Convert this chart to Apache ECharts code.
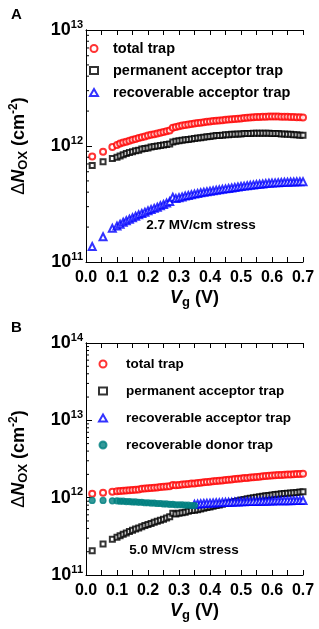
<!DOCTYPE html>
<html>
<head>
<meta charset="utf-8">
<script src="https://cdn.jsdelivr.net/npm/echarts@6/dist/echarts.min.js"></script>
<style>html,body{margin:0;padding:0;background:#fff}#c{width:319px;height:629px}</style>
</head>
<body>
<div id="c"></div>
<script>
// Gate voltage (V)
const vg = [0.02,0.055,0.085,
  0.10,0.11,0.12,0.13,0.14,0.15,0.16,0.17,0.18,0.19,0.20,0.21,0.22,0.23,0.24,0.25,0.26,0.27,
  0.28,0.29,0.30,0.31,0.32,0.33,0.34,0.35,0.36,0.37,0.38,0.39,0.40,0.41,0.42,0.43,0.44,0.45,
  0.46,0.47,0.48,0.49,0.50,0.51,0.52,0.53,0.54,0.55,0.56,0.57,0.58,0.59,0.60,0.61,0.62,0.63,
  0.64,0.65,0.66,0.67,0.68,0.69,0.70];
// Panel A, 2.7 MV/cm stress (units of 1e11 cm^-2)
const totalA = [8.1,8.9,9.8,
  10.2,10.5,10.7,10.9,11.1,11.3,11.5,11.7,11.9,12.1,12.3,12.5,12.6,12.8,13.0,13.2,13.4,13.6,
  14.4,14.6,14.8,15.0,15.2,15.3,15.5,15.6,15.8,15.9,16.0,16.2,16.3,16.4,16.5,16.6,16.7,16.8,
  16.9,17.0,17.1,17.2,17.3,17.4,17.5,17.6,17.7,17.8,17.8,17.9,17.9,18.0,18.0,18.0,18.0,17.9,
  17.9,17.9,17.8,17.8,17.7,17.7,17.6];
const permA = [6.8,7.3,7.8,
  8.0,8.2,8.4,8.6,8.8,8.9,9.1,9.2,9.4,9.5,9.6,9.8,9.9,10.0,10.1,10.2,10.3,10.4,
  10.8,11.0,11.1,11.2,11.3,11.4,11.5,11.6,11.7,11.8,11.9,12.0,12.1,12.2,12.3,12.3,12.4,12.5,
  12.5,12.6,12.6,12.7,12.7,12.8,12.8,12.8,12.9,12.9,12.9,12.9,12.9,12.9,12.8,12.8,12.8,12.7,
  12.7,12.6,12.6,12.5,12.5,12.4,12.4];
const recAccA = [1.36,1.65,1.95,
  2.04,2.12,2.20,2.27,2.34,2.41,2.48,2.55,2.62,2.69,2.76,2.83,2.90,2.97,3.05,3.13,3.22,3.32,
  3.62,3.52,3.58,3.64,3.70,3.75,3.80,3.85,3.90,3.95,3.99,4.03,4.07,4.11,4.15,4.19,4.23,4.27,
  4.31,4.35,4.39,4.43,4.47,4.51,4.55,4.58,4.62,4.65,4.68,4.71,4.74,4.77,4.79,4.81,4.83,4.85,
  4.87,4.88,4.89,4.90,4.91,4.92,4.93];
// Panel B, 5.0 MV/cm stress (units of 1e11 cm^-2)
const totalB = [11.2,11.6,11.9,
  12.1,12.2,12.3,12.4,12.5,12.6,12.7,12.8,13.0,13.1,13.2,13.3,13.4,13.5,13.7,13.8,13.9,14.1,
  14.6,14.5,14.6,14.8,14.9,15.0,15.2,15.3,15.5,15.6,15.8,16.0,16.1,16.3,16.4,16.6,16.7,16.9,
  17.1,17.2,17.4,17.6,17.7,17.9,18.0,18.2,18.4,18.5,18.7,18.9,19.0,19.2,19.3,19.5,19.6,19.7,
  19.8,19.9,20.0,20.1,20.2,20.3,20.4];
const permB = [2.06,2.52,2.90,
  3.08,3.22,3.36,3.50,3.64,3.78,3.92,4.06,4.20,4.35,4.50,4.65,4.80,4.95,5.10,5.27,5.45,5.65,
  6.3,6.15,6.3,6.4,6.5,6.65,6.8,6.9,7.0,7.15,7.3,7.45,7.6,7.75,7.9,8.05,8.2,8.4,
  8.55,8.75,8.95,9.15,9.35,9.5,9.65,9.8,9.95,10.1,10.25,10.4,10.55,10.7,10.85,11.0,11.1,11.2,
  11.3,11.4,11.5,11.6,11.7,11.8,11.9];
const vgDonor = [0.02,0.055,0.085,0.10,0.11,0.12,0.13,0.14,0.15,0.16,0.17,0.18,0.19,0.20,
  0.21,0.22,0.23,0.24,0.25,0.26,0.27,0.28,0.29,0.30,0.31,0.32,0.33,0.34,0.35];
const recDonB = [9.2,9.2,9.1,9.1,9.0,9.0,8.9,8.9,8.8,8.8,8.7,8.7,8.6,8.6,
  8.5,8.5,8.4,8.4,8.3,8.3,8.2,8.2,8.1,8.1,8.1,8.0,8.0,7.9,7.9];
const vgAcc = [0.35,0.36,0.37,0.38,0.39,0.40,0.41,0.42,0.43,0.44,0.45,0.46,0.47,0.48,0.49,
  0.50,0.51,0.52,0.53,0.54,0.55,0.56,0.57,0.58,0.59,0.60,0.61,0.62,0.63,0.64,0.65,0.66,
  0.67,0.68,0.69,0.70];
const recAccB = [8.2,8.3,8.35,8.4,8.45,8.5,8.55,8.6,8.6,8.65,8.7,8.7,8.75,8.8,8.8,
  8.85,8.85,8.9,8.9,8.95,8.95,9.0,9.0,9.0,9.05,9.05,9.1,9.1,9.1,9.15,9.15,9.15,
  9.2,9.2,9.2,9.2];
// Minor log ticks
const minorTicksA = [2e11,3e11,4e11,5e11,6e11,7e11,8e11,9e11,2e12,3e12,4e12,5e12,6e12,7e12,8e12,9e12];
const minorTicksB = [2e11,3e11,4e11,5e11,6e11,7e11,8e11,9e11,2e12,3e12,4e12,5e12,6e12,7e12,8e12,9e12,
  2e13,3e13,4e13,5e13,6e13,7e13,8e13,9e13];
const namesA = ['total trap','permanent acceptor trap','recoverable acceptor trap'];
const namesB = ['total trap','permanent acceptor trap','recoverable acceptor trap','recoverable donor trap'];

const FONT = '"Liberation Sans", Arial, sans-serif';
const pair = (xs, ys) => xs.map((x, i) => [x, ys[i] * 1e11]);

const grids = [
  {left: 70, top: 30, width: 233, height: 232},
  {left: 72, top: 343, width: 231, height: 232}
];
function xAxes(gi) {
  return [{
    gridIndex: gi, type: 'value', min: 0, max: 0.7, interval: 0.1, position: 'bottom',
    axisLine: {show: true, lineStyle: {color: '#000', width: 1}},
    axisTick: {show: true, inside: true, length: 5, lineStyle: {color: '#000'}},
    minorTick: {show: true, splitNumber: 2, length: 5, lineStyle: {color: '#000'}},
    splitLine: {show: false},
    axisLabel: {margin: 8, color: '#000', fontFamily: FONT, fontWeight: 'bold', fontSize: 16,
      formatter: v => v.toFixed(1)},
    name: '{v|V}{g|g}{u| (V)}', nameLocation: 'middle', nameGap: 25,
    nameTextStyle: {rich: {
      v: {fontFamily: FONT, fontWeight: 'bold', fontStyle: 'italic', fontSize: 18, color: '#000', lineHeight: 22},
      g: {fontFamily: FONT, fontWeight: 'bold', fontSize: 13, color: '#000', verticalAlign: 'bottom', lineHeight: 13},
      u: {fontFamily: FONT, fontWeight: 'bold', fontSize: 18, color: '#000', lineHeight: 22}
    }}
  }, {
    gridIndex: gi, type: 'value', min: 0, max: 0.7, interval: 0.1, position: 'top',
    axisLine: {show: true, lineStyle: {color: '#000', width: 1}},
    axisTick: {show: true, inside: true, length: 5, lineStyle: {color: '#000'}},
    minorTick: {show: true, splitNumber: 2, length: 5, lineStyle: {color: '#000'}},
    splitLine: {show: false}, axisLabel: {show: false}
  }];
}
function yAxes(gi, min, max) {
  return [{
    gridIndex: gi, type: 'log', logBase: 10, min: min, max: max, position: 'left',
    axisLine: {show: true, lineStyle: {color: '#000', width: 1}},
    axisTick: {show: true, inside: true, length: 6, lineStyle: {color: '#000'}},
    splitLine: {show: false},
    axisLabel: {margin: 3, formatter: v => '{b|10}{s|' + Math.round(Math.log10(v)) + '}',
      rich: {
        b: {fontFamily: FONT, fontWeight: 'bold', fontSize: 18, color: '#000', lineHeight: 22},
        s: {fontFamily: FONT, fontWeight: 'bold', fontSize: 11, color: '#000', verticalAlign: 'top', lineHeight: 12}
      }},
    name: '{d|Δ}{n|N}{o|OX}{t| (cm}{p|-2}{t|)}', nameLocation: 'middle', nameGap: 56, nameRotate: 90,
    nameTextStyle: {rich: {
      d: {fontFamily: FONT, fontSize: 18, color: '#000', lineHeight: 22},
      n: {fontFamily: FONT, fontWeight: 'bold', fontStyle: 'italic', fontSize: 18, color: '#000', lineHeight: 22},
      o: {fontFamily: FONT, fontWeight: 'bold', fontSize: 13, color: '#000', verticalAlign: 'bottom', lineHeight: 13},
      t: {fontFamily: FONT, fontWeight: 'bold', fontSize: 18, color: '#000', lineHeight: 22},
      p: {fontFamily: FONT, fontWeight: 'bold', fontSize: 12, color: '#000', verticalAlign: 'top', lineHeight: 12}
    }}
  }, {
    gridIndex: gi, type: 'log', logBase: 10, min: min, max: max, position: 'right',
    axisLine: {show: true, lineStyle: {color: '#000', width: 1}},
    axisTick: {show: false}, splitLine: {show: false}, axisLabel: {show: false}
  }];
}
function minorSeries(xi, yi, ticks) {
  return {
    type: 'custom', xAxisIndex: xi, yAxisIndex: yi, silent: true, z: 5,
    data: ticks.map(t => [0, t]),
    renderItem: (params, api) => {
      const p = api.coord([api.value(0), api.value(1)]);
      return {type: 'line', shape: {x1: p[0], y1: p[1], x2: p[0] + 3, y2: p[1]},
        style: {stroke: '#000', lineWidth: 1}};
    }
  };
}
function sc(name, xi, yi, data, symbol, color, size) {
  return {
    name: name, type: 'scatter', xAxisIndex: xi, yAxisIndex: yi, data: data,
    symbol: symbol, symbolSize: size, symbolKeepAspect: true,
    itemStyle: {color: color, borderColor: color, borderWidth: 1.2}, silent: true
  };
}
const legendText = (size, pad) => ({fontFamily: FONT, fontWeight: 'bold', fontSize: size, color: '#000', padding: [0, 0, 0, pad]});

const option = {
  animation: false,
  backgroundColor: '#fff',
  grid: grids,
  xAxis: [...xAxes(0), ...xAxes(1)],
  yAxis: [...yAxes(0, 1e11, 1e13), ...yAxes(1, 1e11, 1e14)],
  title: [
    {text: 'A', left: 6, top: 2, textStyle: {fontFamily: FONT, fontWeight: 'bold', fontSize: 15, color: '#000'}},
    {text: 'B', left: 6, top: 315, textStyle: {fontFamily: FONT, fontWeight: 'bold', fontSize: 15, color: '#000'}}
  ],
  legend: [
    {data: namesA, orient: 'vertical', left: 89, top: 41, padding: 0, itemWidth: 8, itemHeight: 7, itemGap: 7,
      selectedMode: false, textStyle: legendText(14.5, 10)},
    {data: namesB, orient: 'vertical', left: 98, top: 357, padding: 0, itemWidth: 8, itemHeight: 7, itemGap: 13,
      selectedMode: false, textStyle: legendText(13.5, 14)}
  ],
  graphic: [
    {type: 'text', x: 201, y: 225, style: {text: '2.7 MV/cm stress', fontFamily: FONT, fontWeight: 'bold', fontSize: 13.5, fill: '#000', align: 'center', verticalAlign: 'middle'}},
    {type: 'text', x: 184, y: 550, style: {text: '5.0 MV/cm stress', fontFamily: FONT, fontWeight: 'bold', fontSize: 13.5, fill: '#000', align: 'center', verticalAlign: 'middle'}}
  ],
  series: [
    sc('total trap', 0, 0, pair(vg, totalA), 'emptyCircle', '#ff0000', 6),
    sc('permanent acceptor trap', 0, 0, pair(vg, permA), 'emptyRect', '#000000', 5),
    sc('recoverable acceptor trap', 0, 0, pair(vg, recAccA), 'emptyTriangle', '#0000ff', 7),
    sc('total trap', 2, 2, pair(vg, totalB), 'emptyCircle', '#ff0000', 6),
    sc('permanent acceptor trap', 2, 2, pair(vg, permB), 'emptyRect', '#000000', 5),
    sc('recoverable acceptor trap', 2, 2, pair(vgAcc, recAccB), 'emptyTriangle', '#0000ff', 7),
    sc('recoverable donor trap', 2, 2, pair(vgDonor, recDonB), 'circle', '#008080', 6),
    minorSeries(0, 0, minorTicksA),
    minorSeries(2, 2, minorTicksB)
  ]
};
const chart = echarts.init(document.getElementById('c'), null, {renderer: 'canvas'});
chart.setOption(option);
</script>
</body>
</html>
